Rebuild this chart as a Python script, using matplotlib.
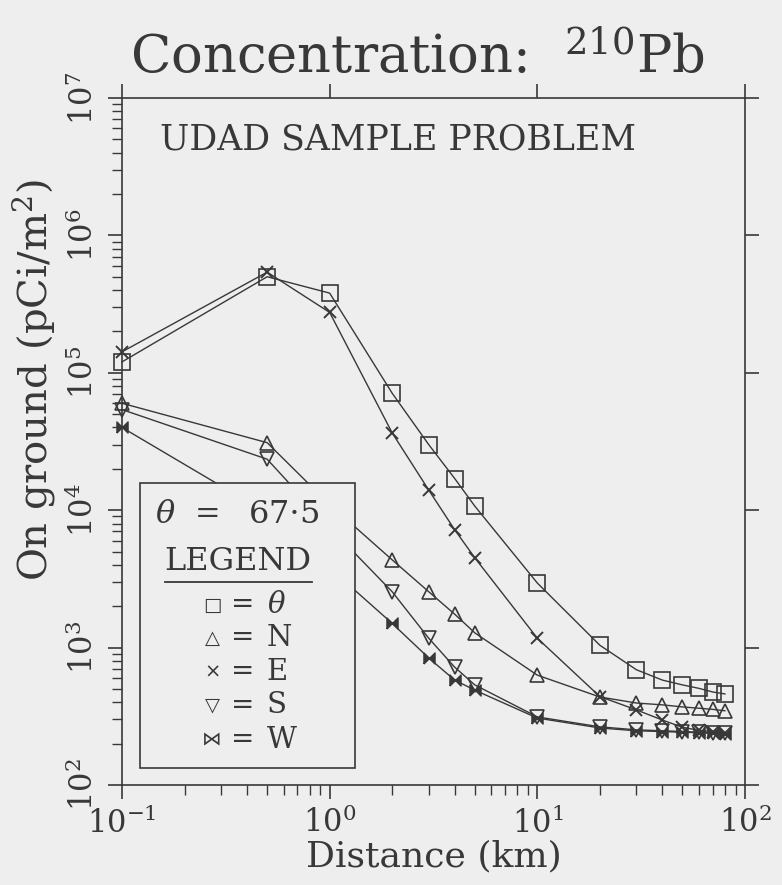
import numpy as np
import matplotlib
matplotlib.use('Agg')
import matplotlib.pyplot as plt
from matplotlib.patches import Rectangle
from matplotlib.ticker import LogLocator, NullFormatter

# distances (km) and ground concentrations (pCi/m2)
distance = [0.1, 0.5, 1, 2, 3, 4, 5, 10, 20, 30, 40, 50, 60, 70, 80]
theta = [1.2e5, 5.0e5, 3.8e5, 7.1e4, 3.0e4, 1.7e4, 1.07e4, 2.95e3, 1.04e3, 690, 580, 535, 505, 475, 460]
north = [6.0e4, 3.1e4, 1.1e4, 4.35e3, 2.55e3, 1.75e3, 1.28e3, 630, 437, 395, 383, 370, 362, 355, 347]
east = [1.42e5, 5.4e5, 2.75e5, 3.65e4, 1.4e4, 7.2e3, 4.5e3, 1.17e3, 440, 352, 297, 263, 250, 245, 240]
south = [5.4e4, 2.35e4, 7.5e3, 2.55e3, 1.17e3, 720, 535, 313, 265, 252, 248, 245, 242, 240, 238]
west = [4.0e4, 9.5e3, 3.8e3, 1.5e3, 840, 580, 490, 307, 260, 248, 245, 242, 240, 238, 236]

bg = '#eeeeee'
ink = '#383838'
plt.rcParams['font.family'] = 'DejaVu Serif'
plt.rcParams['mathtext.fontset'] = 'dejavuserif'

fig = plt.figure(figsize=(7.82, 8.85), dpi=100, facecolor=bg)
ax = fig.add_axes([0.156, 0.113, 0.7967, 0.7763], facecolor=bg)

bowtie = [(-1, -1), (1, 1), (1, -1), (-1, 1), (-1, -1)]
lw = 1.0
kw = dict(color=ink, lw=lw, clip_on=False)
ax.plot(distance, theta, marker='s', ms=11, mfc='none', mec=ink, mew=1.2, **kw)
ax.plot(distance, north, marker='^', ms=10, mfc='none', mec=ink, mew=1.2, **kw)
ax.plot(distance, east, marker='x', ms=9, mec=ink, mew=1.4, **kw)
ax.plot(distance, south, marker='v', ms=10, mfc='none', mec=ink, mew=1.2, **kw)
ax.plot(distance, west, marker=bowtie, ms=8, mfc=ink, mec=ink, mew=1.0, **kw)

ax.set_xscale('log')
ax.set_yscale('log')
ax.set_xlim(0.1, 100)
ax.set_ylim(1e2, 1e7)

for s in ax.spines.values():
    s.set_color(ink)
    s.set_linewidth(1.2)

ax.xaxis.set_major_locator(LogLocator(base=10, numticks=10))
ax.yaxis.set_major_locator(LogLocator(base=10, numticks=10))
ax.xaxis.set_minor_locator(LogLocator(base=10, subs=np.arange(2, 10), numticks=10))
ax.yaxis.set_minor_locator(LogLocator(base=10, subs=np.arange(2, 10), numticks=10))
ax.xaxis.set_minor_formatter(NullFormatter())
ax.yaxis.set_minor_formatter(NullFormatter())

ax.tick_params(which='major', direction='out', length=10, width=1.2, color=ink,
               top=True, right=True, labelsize=22, labelcolor=ink, pad=6)
ax.tick_params(which='minor', direction='out', length=7, width=1.0, color=ink,
               top=False, right=False)
ax.tick_params(axis='y', labelrotation=90)
for lab in ax.get_yticklabels():
    lab.set_va('center')

ax.set_xlabel('Distance (km)', fontsize=26, color=ink, labelpad=0)
ax.set_ylabel('On ground (pCi/m$^2$)', fontsize=29, color=ink)
ax.yaxis.set_label_coords(-0.105, 0.59)

fig.text(0.166, 0.917, 'Concentration:  $^{210}$Pb', fontsize=38, color=ink,
         ha='left', va='baseline')
ax.text(0.061, 0.939, 'UDAD SAMPLE PROBLEM', transform=ax.transAxes, fontsize=25,
        color=ink, ha='left', va='center')

# legend box
ax.add_patch(Rectangle((0.029, 0.0247), 0.345, 0.415, transform=ax.transAxes,
                       facecolor=bg, edgecolor=ink, lw=1.2, zorder=5))
ax.text(0.069, 0.393, '$\\theta$', transform=ax.transAxes, fontsize=23,
        color=ink, ha='center', va='center', zorder=6)
ax.text(0.138, 0.393, '=', transform=ax.transAxes, fontsize=22,
        color=ink, ha='center', va='center', zorder=6)
ax.text(0.203, 0.393, '67$\\cdot$5', transform=ax.transAxes, fontsize=23,
        color=ink, ha='left', va='center', zorder=6)
ax.text(0.186, 0.325, 'LEGEND', transform=ax.transAxes, fontsize=23,
        color=ink, ha='center', va='center', zorder=6)
ax.plot([0.069, 0.305], [0.2955, 0.2955], transform=ax.transAxes, color=ink, lw=1.3, zorder=6)

symbols = ['□', '△', '×', '▽', '⋈']
names = ['$\\theta$', 'N', 'E', 'S', 'W']
rows = [0.262, 0.214, 0.1645, 0.1164, 0.0655]
for sym, name, yy in zip(symbols, names, rows):
    ax.text(0.1445, yy, sym, transform=ax.transAxes, fontsize=14, family='DejaVu Sans',
            color=ink, ha='center', va='center', zorder=6)
    ax.text(0.194, yy, '=', transform=ax.transAxes, fontsize=20,
            color=ink, ha='center', va='center', zorder=6)
    ax.text(0.232, yy, name, transform=ax.transAxes, fontsize=21,
            color=ink, ha='left', va='center', zorder=6)

fig.savefig('out.png', dpi=100, facecolor=bg)
